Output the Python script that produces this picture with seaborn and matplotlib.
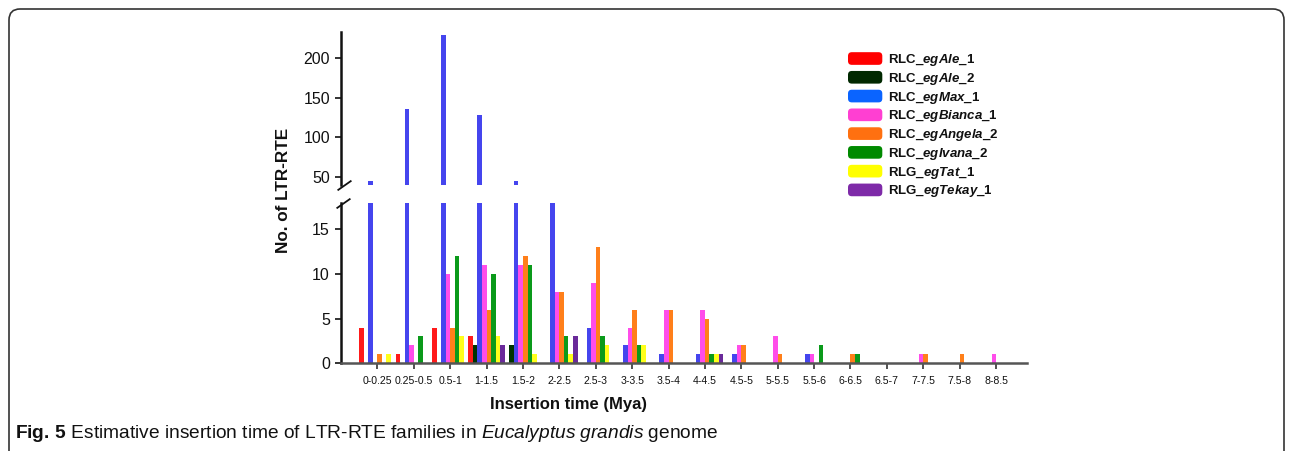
import numpy as np
import pandas as pd
import matplotlib
matplotlib.use("Agg")
import matplotlib.pyplot as plt
import seaborn as sns
from matplotlib.patches import Patch, FancyBboxPatch
from matplotlib.legend_handler import HandlerPatch
from matplotlib.transforms import IdentityTransform
from matplotlib import font_manager

# ---------------- data ----------------
periods = ["0-0.25", "0.25-0.5", "0.5-1", "1-1.5", "1.5-2", "2-2.5", "2.5-3",
           "3-3.5", "3.5-4", "4-4.5", "4.5-5", "5-5.5", "5.5-6", "6-6.5",
           "6.5-7", "7-7.5", "7.5-8", "8-8.5"]
families = ["RLC_egAle_1", "RLC_egAle_2", "RLC_egMax_1", "RLC_egBianca_1",
            "RLC_egAngela_2", "RLC_egIvana_2", "RLG_egTat_1", "RLG_egTekay_1"]
egAle_1    = [4, 1, 4, 3, 0, 0, 0, 0, 0, 0, 0, 0, 0, 0, 0, 0, 0, 0]
egAle_2    = [0, 0, 0, 2, 2, 0, 0, 0, 0, 0, 0, 0, 0, 0, 0, 0, 0, 0]
egMax_1    = [45, 136, 230, 128, 45, 30, 4, 2, 1, 1, 1, 0, 1, 0, 0, 0, 0, 0]
egBianca_1 = [0, 2, 10, 11, 11, 8, 9, 4, 6, 6, 2, 3, 1, 0, 0, 1, 0, 1]
egAngela_2 = [1, 0, 4, 6, 12, 8, 13, 6, 6, 5, 2, 1, 0, 1, 0, 1, 1, 0]
egIvana_2  = [0, 3, 12, 10, 11, 3, 3, 2, 0, 1, 0, 0, 2, 1, 0, 0, 0, 0]
egTat_1    = [1, 0, 3, 3, 1, 1, 2, 2, 0, 1, 0, 0, 0, 0, 0, 0, 0, 0]
egTekay_1  = [0, 0, 0, 2, 0, 3, 0, 0, 0, 1, 0, 0, 0, 0, 0, 0, 0, 0]
series = [egAle_1, egAle_2, egMax_1, egBianca_1, egAngela_2, egIvana_2, egTat_1, egTekay_1]
legend_labels = [r"RLC_$\mathbfit{egAle}$_1", r"RLC_$\mathbfit{egAle}$_2",
                 r"RLC_$\mathbfit{egMax}$_1", r"RLC_$\mathbfit{egBianca}$_1",
                 r"RLC_$\mathbfit{egAngela}$_2", r"RLC_$\mathbfit{egIvana}$_2",
                 r"RLG_$\mathbfit{egTat}$_1", r"RLG_$\mathbfit{egTekay}$_1"]
bar_colors = ["#ff1a1a", "#003300", "#4545ee", "#ff4dea", "#ff7f1a", "#0a9a1a", "#ffff1a", "#6a2a9a"]
legend_colors = ["#ff0000", "#002800", "#0a64ff", "#ff3fd2", "#ff7010", "#008a00", "#ffff00", "#7e2aa8"]

df = pd.DataFrame({
    "period": np.repeat([periods], len(families), axis=0).ravel(),
    "family": np.repeat(families, len(periods)),
    "count": np.concatenate([np.asarray(s, float) for s in series]),
})

# ---------------- style ----------------
sns.set_theme(style="white")
plt.rcParams["font.family"] = ["Liberation Sans", "DejaVu Sans"]
plt.rcParams["mathtext.fontset"] = "custom"
plt.rcParams["mathtext.rm"] = "Liberation Sans"
plt.rcParams["mathtext.bf"] = "Liberation Sans:bold"
plt.rcParams["mathtext.it"] = "Liberation Sans:italic"
try:
    plt.rcParams["mathtext.bfit"] = "Liberation Sans:italic:bold"
except KeyError:
    pass

names = {f.name for f in font_manager.fontManager.ttflist}
narrow = "Liberation Sans Narrow" in names
tick_family = ["Liberation Sans Narrow", "Liberation Sans"] if narrow else ["Liberation Sans"]
tick_size = 9 if narrow else 7.6

W, H = 1292, 451
fig = plt.figure(figsize=(W / 100, H / 100), dpi=100)
fig.patch.set_facecolor("white")

def fx(px):
    return px / W

def fy(py):
    return 1 - py / H

x0, x1 = 341, 1027
ax_top = fig.add_axes([fx(x0), fy(185), fx(x1) - fx(x0), fy(31.7) - fy(185)])
ax_bot = fig.add_axes([fx(x0), fy(363.3), fx(x1) - fx(x0), fy(203.3) - fy(363.3)])

for ax in (ax_top, ax_bot):
    sns.barplot(data=df, x="period", y="count", hue="family", hue_order=families,
                order=periods, palette=bar_colors, width=1.0, saturation=1,
                linewidth=0, errorbar=None, legend=False, ax=ax)
    ax.set_xlim(-1.0, 17.85)
    ax.set_xlabel("")
    ax.set_ylabel("")
    ax.set_facecolor("none")
    for s in ("top", "right"):
        ax.spines[s].set_visible(False)
    ax.spines["left"].set_color("#111111")
    ax.spines["left"].set_linewidth(1.8)
    ax.tick_params(axis="y", which="both", left=True, length=4, width=1.2,
                   color="#111111", labelsize=11.5, pad=4, labelcolor="#111111")

ax_top.set_ylim(40, 233.6)
ax_top.set_yticks([50, 100, 150, 200])
ax_top.spines["bottom"].set_visible(False)
ax_top.tick_params(axis="x", bottom=False, labelbottom=False)

ax_bot.set_ylim(0, 17.9)
ax_bot.set_yticks([0, 5, 10, 15])
ax_bot.spines["bottom"].set_color("#555555")
ax_bot.spines["bottom"].set_linewidth(1.8)
ax_bot.tick_params(axis="x", bottom=True, length=4, width=1.2, color="#333333",
                   pad=5, labelcolor="#111111")
ax_bot.set_xticks(range(len(periods)))
ax_bot.set_xticklabels(periods, family=tick_family, fontsize=tick_size)

# break marks
kw = dict(marker=[(-1, -0.7), (1, 0.7)], markersize=10, linestyle="none",
          color="#111111", mec="#111111", mew=1.3, clip_on=False)
ax_top.plot([0.005], [0], transform=ax_top.transAxes, **kw)
ax_bot.plot([0.003], [1], transform=ax_bot.transAxes, **kw)

# axis labels
fig.text(fx(283), fy(190), "No. of LTR-RTE", rotation=90, ha="center", va="center",
         fontsize=12.3, fontweight="bold", color="#111111")
fig.text(fx(568), fy(405), "Insertion time (Mya)", ha="center", va="center",
         fontsize=12, fontweight="bold", color="#111111")

# legend with rounded swatches
def rounded(legend, orig_handle, xdescent, ydescent, width, height, fontsize):
    return FancyBboxPatch((-xdescent, -ydescent), width, height,
                          boxstyle=f"round,pad=0,rounding_size={height * 0.3}")

handles = [Patch(facecolor=c, edgecolor="none", label=l)
           for c, l in zip(legend_colors, legend_labels)]
fig.legend(handles=handles, loc="upper left", bbox_to_anchor=(fx(848), fy(52)),
           bbox_transform=fig.transFigure, frameon=False, borderpad=0,
           borderaxespad=0, prop={"weight": "bold", "size": 9.5},
           handlelength=2.6, handleheight=1.1, handletextpad=0.45,
           labelspacing=0.21, labelcolor="#111111",
           handler_map={Patch: HandlerPatch(patch_func=rounded)})

# caption
fig.text(fx(15), fy(433),
         r"$\mathbf{Fig.}$$\mathbf{\,5}$ Estimative insertion time of LTR-RTE families in "
         r"$\mathit{Eucalyptus\ grandis}$ genome",
         ha="left", va="center", fontsize=13.8, color="#111111")

# rounded outer frame
frame = FancyBboxPatch((9, -30), 1275, 442 + 30, boxstyle="round,pad=0,rounding_size=11",
                       transform=IdentityTransform(), facecolor="none",
                       edgecolor="#333333", linewidth=1.2, clip_on=False)
fig.add_artist(frame)

fig.savefig("out.png", dpi=100, facecolor="white")
